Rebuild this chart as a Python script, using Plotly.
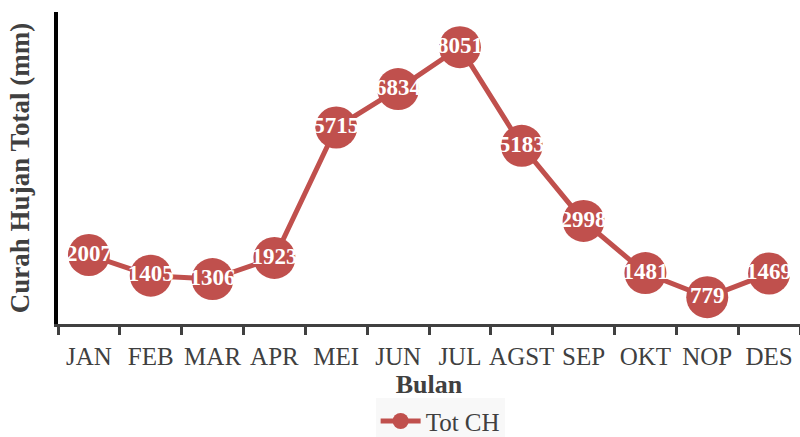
import plotly.graph_objects as go

months = ["JAN", "FEB", "MAR", "APR", "MEI", "JUN", "JUL", "AGST", "SEP", "OKT", "NOP", "DES"]
tot_ch = [2007, 1405, 1306, 1923, 5715, 6834, 8051, 5183, 2998, 1481, 779, 1469]

red = "#C0504D"
grey = "#404040"
font = "Liberation Serif, Times New Roman, serif"

fig = go.Figure()
fig.add_trace(go.Scatter(
    x=months, y=tot_ch, mode="lines+markers+text", name="Tot CH",
    line=dict(color=red, width=5),
    marker=dict(color=red, size=42),
    text=[str(v) for v in tot_ch], textposition="middle center",
    textfont=dict(family=font, size=23, color="white", weight="bold"),
    cliponaxis=False,
))

fig.update_layout(
    width=800, height=437,
    margin=dict(l=58, r=0, t=12, b=113, autoexpand=False),
    paper_bgcolor="white", plot_bgcolor="white",
    font=dict(family=font, color=grey),
    showlegend=True,
    legend=dict(orientation="h", x=0.515, xanchor="center", y=-0.238, yanchor="top",
                bgcolor="#F8F8F8", font=dict(size=25, color=grey, family=font),
                itemwidth=40),
    xaxis=dict(
        range=[-0.5, 11.5],
        showline=True, linecolor=grey, linewidth=3, automargin=False, tickangle=0,
        ticks="outside", tickson="boundaries", ticklen=8, tickwidth=3, tickcolor=grey,
        tickfont=dict(size=25, color=grey, family=font), ticklabelstandoff=8,
        showgrid=False, zeroline=False,
        title=dict(text="<b>Bulan</b>", font=dict(size=26, color=grey, family=font), standoff=0),
    ),
    yaxis=dict(
        range=[0, 9075], showline=True, linecolor="black", linewidth=4, automargin=False,
        showticklabels=False, ticks="", showgrid=False, zeroline=False,
        title=dict(text="<b>Curah Hujan Total (mm)</b>", font=dict(size=27, color=grey, family=font), standoff=18),
    ),
)

fig.write_html("out.html", config={"displayModeBar": False},
               post_script="document.body.style.margin='0';")
